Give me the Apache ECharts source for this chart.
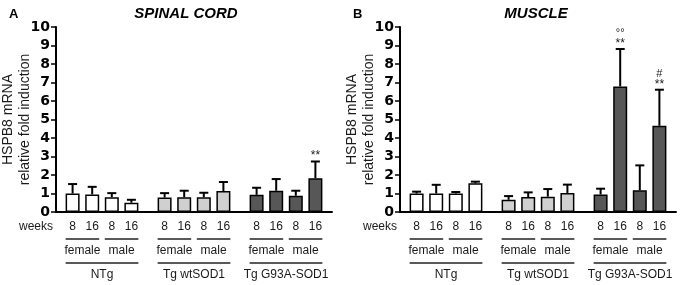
<!DOCTYPE html>
<html>
<head>
<meta charset="utf-8">
<script src="https://cdn.jsdelivr.net/npm/echarts@6/dist/echarts.min.js"></script>
<style>
  html, body { margin: 0; padding: 0; background: #fff; }
  #echarts { width: 680px; height: 285px; }
</style>
</head>
<body>
<div id="echarts"></div>
<script>
// categories
const groups = ['NTg', 'Tg wtSOD1', 'Tg G93A-SOD1']
const sexes = ['female', 'male']
const weeks = ['8', '16']
const groupColors = ['#ffffff', '#d0d0d0', '#575757']

// values: group -> sex -> week (f8, f16, m8, m16)
const spinalMean = [1.00, 0.95, 0.80, 0.50, 0.78, 0.80, 0.80, 1.13, 0.93, 1.15, 0.88, 1.83]
const spinalSd = [0.51, 0.41, 0.22, 0.16, 0.24, 0.35, 0.24, 0.49, 0.38, 0.63, 0.27, 0.90]
const spinalMarks = ['', '', '', '', '', '', '', '', '', '', '', '**']

const muscleMean = [1.00, 1.00, 1.00, 1.55, 0.66, 0.81, 0.83, 1.03, 0.95, 6.79, 1.17, 4.66]
const muscleSd = [0.10, 0.47, 0.08, 0.09, 0.20, 0.25, 0.41, 0.45, 0.31, 2.02, 1.35, 1.95]
const muscleMarks = ['', '', '', '', '', '', '', '', '', '°°\n**', '', '#\n**']

const yMax = 10
const yName = 'HSPB8 mRNA\nrelative fold induction'

const BAR_W = 14
const STEP = BAR_W * 1.4
const CAP = 9
const FONT = 'Liberation Sans, Arial, sans-serif'
const TXT = '#1a1a1a'

const panels = [
  { letter: 'A', title: 'SPINAL CORD', mean: spinalMean, sd: spinalSd, marks: spinalMarks, left: 56, titleX: 186 },
  { letter: 'B', title: 'MUSCLE', mean: muscleMean, sd: muscleSd, marks: muscleMarks, left: 400, titleX: 536 },
]

const chart = echarts.init(document.getElementById('echarts'))

const option = {
  animation: false,
  textStyle: { fontFamily: FONT },
  title: [],
  grid: [],
  xAxis: [],
  yAxis: [],
  series: [],
}

panels.forEach((p, k) => {
  option.title.push({
    text: p.letter, left: p.left - 47, top: 8, padding: 0,
    textStyle: { fontSize: 13, fontWeight: 'bold', color: '#000', fontFamily: FONT },
  })
  option.title.push({
    text: p.title, left: p.titleX, top: 6, padding: 0, textAlign: 'center',
    textStyle: { fontSize: 15, fontWeight: 'bold', fontStyle: 'italic', color: '#000', fontFamily: FONT },
  })
  option.grid.push({ left: p.left, top: 27, width: 276, height: 185, outerBoundsMode: 'none', containLabel: false })
  option.xAxis.push({
    type: 'category', gridIndex: k, data: groups,
    axisLine: { lineStyle: { color: '#000', width: 2 } },
    axisTick: { show: false }, axisLabel: { show: false },
  })
  option.yAxis.push({
    type: 'value', gridIndex: k, min: 0, max: yMax, interval: 1,
    name: yName, nameLocation: 'middle', nameGap: 22, nameRotate: 90, nameMoveOverlap: false,
    nameTextStyle: { fontSize: 14, lineHeight: 17, color: TXT, fontFamily: FONT },
    axisLine: { show: true, lineStyle: { color: '#000', width: 2 } },
    axisTick: { show: true, length: 5, lineStyle: { color: '#000', width: 1.5 } },
    axisLabel: { fontSize: 14, fontWeight: 'bold', color: '#000', margin: 6, fontFamily: 'DejaVu Sans' },
    splitLine: { show: false },
  })
  for (let j = 0; j < 4; j++) {
    option.series.push({
      type: 'bar', xAxisIndex: k, yAxisIndex: k,
      barWidth: BAR_W, barGap: '40%', silent: true,
      data: groups.map((g, gi) => p.mean[gi * 4 + j]),
      itemStyle: {
        color: params => groupColors[params.dataIndex],
        borderColor: '#000', borderWidth: 1.5,
      },
    })
  }
  // error bars + significance marks
  option.series.push({
    type: 'custom', xAxisIndex: k, yAxisIndex: k, silent: true, clip: false, z: 5,
    encode: { x: 0, y: 1 },
    data: p.mean.map((m, i) => [Math.floor(i / 4), m, p.sd[i], i % 4]),
    renderItem(params, api) {
      const gi = api.value(0), m = api.value(1), s = api.value(2), j = api.value(3)
      const base = api.coord([gi, m])
      const top = api.coord([gi, m + s])
      const x = base[0] + (j - 1.5) * STEP
      const style = { stroke: '#000', lineWidth: 2 }
      const children = [
        { type: 'line', shape: { x1: x, y1: base[1], x2: x, y2: top[1] }, style },
        { type: 'line', shape: { x1: x - CAP / 2, y1: top[1], x2: x + CAP / 2, y2: top[1] }, style },
      ]
      const mark = p.marks[params.dataIndex]
      if (mark) {
        const rows = mark.split('\n').reverse()
        rows.forEach((r, ri) => {
          children.push({
            type: 'text', x: x, y: ri === 0 ? top[1] - 1 : top[1] - 16,
            style: {
              text: r, fill: TXT, font: (ri === 0 ? '12px ' : '11px ') + FONT, align: 'center',
              verticalAlign: ri === 0 ? 'bottom' : 'middle', lineHeight: 9,
            },
          })
        })
      }
      return { type: 'group', children }
    },
  })
})

chart.setOption(option)

// multi-level labels below the x axis
const graphic = []
const lbl = (text, x, y, align) => ({
  type: 'text', x, y, silent: true,
  style: { text, fill: TXT, font: '12px ' + FONT, align: align || 'center', verticalAlign: 'middle' },
})
const hline = (x1, x2, y) => ({
  type: 'line', silent: true, shape: { x1, y1: y, x2, y2: y }, style: { stroke: '#222', lineWidth: 1.5 },
})

panels.forEach((p, k) => {
  const y0 = chart.convertToPixel({ yAxisIndex: k }, 0)
  graphic.push(lbl('weeks', p.left - 3, y0 + 15, 'right'))
  groups.forEach((g, gi) => {
    const cx = chart.convertToPixel({ xAxisIndex: k }, gi)
    for (let j = 0; j < 4; j++) {
      graphic.push(lbl(weeks[j % 2], cx + (j - 1.5) * STEP, y0 + 15))
    }
    sexes.forEach((s, si) => {
      const x1 = cx + (2 * si - 1.5) * STEP - BAR_W / 2
      const x2 = cx + (2 * si - 0.5) * STEP + BAR_W / 2
      graphic.push(hline(x1, x2, y0 + 27))
      graphic.push(lbl(s, (x1 + x2) / 2, y0 + 39))
    })
    graphic.push(hline(cx - 1.5 * STEP - BAR_W / 2, cx + 1.5 * STEP + BAR_W / 2, y0 + 51))
    graphic.push(lbl(g, cx, y0 + 63))
  })
})

chart.setOption({ graphic })
</script>
</body>
</html>
